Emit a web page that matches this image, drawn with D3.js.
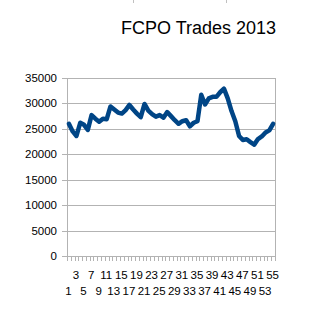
<!DOCTYPE html>
<html>
<head>
<meta charset="utf-8">
<script src="https://cdn.jsdelivr.net/npm/d3@7"></script>
<style>
body { margin: 0; background: #fff; }
text { font-family: "Liberation Sans", Arial, sans-serif; fill: #000; }
</style>
</head>
<body>
<script>
//FCPO trades line chart
(function(){

//week numbers 1..55
var weeks = [1,2,3,4,5,6,7,8,9,10,11,12,13,14,15,16,17,18,19,20,21,22,23,24,25,26,27,28,29,30,31,32,33,34,35,36,37,38,39,40,41,42,43,44,45,46,47,48,49,50,51,52,53,54,55];
//trades per week
var trades = [26000,24500,23600,26200,25800,24800,27700,27000,26400,27000,
              26900,29400,28800,28200,28000,28700,29700,28800,28000,27300,
              29900,28600,27900,27400,27700,27200,28300,27500,26700,26000,
              26500,26700,25500,26200,26500,31700,29800,31000,31300,31300,
              32200,32900,31000,28500,26500,23600,22800,22950,22400,21900,
              23000,23500,24300,24700,26000];
var yTicks = [0,5000,10000,15000,20000,25000,30000,35000];
var chartTitle = "FCPO Trades 2013";

window.onload = drawChart();

function drawChart(){
    var width = 330,
        height = 323;

    var svg = d3.select("body")
        .append("svg")
        .attr("width", width)
        .attr("height", height);

    //plot area
    var left = 67, right = 275, top = 78, bottom = 256;

    var x = d3.scaleBand()
        .domain(weeks)
        .range([left, right]);

    var y = d3.scaleLinear()
        .domain([0, 35000])
        .range([bottom, top]);

    //little marks at the top edge
    svg.selectAll(".edge")
        .data([133, 226])
        .enter()
        .append("line")
        .attr("x1", function(d){ return d + 0.5; })
        .attr("x2", function(d){ return d + 0.5; })
        .attr("y1", 0)
        .attr("y2", 3)
        .style("stroke", "#c0c0c0");

    //title
    svg.append("text")
        .attr("x", 121)
        .attr("y", 34)
        .style("font-size", "18px")
        .text(chartTitle);

    //horizontal gridlines with outer ticks
    svg.selectAll(".grid")
        .data(yTicks)
        .enter()
        .append("line")
        .attr("class", "grid")
        .attr("x1", left - 5)
        .attr("x2", right)
        .attr("y1", function(d){ return Math.round(y(d)) + 0.5; })
        .attr("y2", function(d){ return Math.round(y(d)) + 0.5; })
        .style("stroke", "#b3b3b3");

    //y labels
    svg.selectAll(".ylab")
        .data(yTicks)
        .enter()
        .append("text")
        .attr("class", "ylab")
        .attr("x", 57)
        .attr("y", function(d){ return y(d); })
        .attr("dy", "0.35em")
        .attr("text-anchor", "end")
        .style("font-size", "11.5px")
        .text(function(d){ return d; });

    //left and right frame lines
    svg.append("line")
        .attr("x1", left + 0.5).attr("x2", left + 0.5)
        .attr("y1", top).attr("y2", bottom + 5)
        .style("stroke", "#b3b3b3");
    svg.append("line")
        .attr("x1", right + 0.5).attr("x2", right + 0.5)
        .attr("y1", top).attr("y2", bottom + 5)
        .style("stroke", "#b3b3b3");

    //category ticks at band boundaries
    var bounds = weeks.map(function(d){ return x(d); }).concat([x(weeks[weeks.length - 1]) + x.bandwidth()]);
    svg.selectAll(".xtick")
        .data(bounds)
        .enter()
        .append("line")
        .attr("class", "xtick")
        .attr("x1", function(d){ return Math.round(d) + 0.5; })
        .attr("x2", function(d){ return Math.round(d) + 0.5; })
        .attr("y1", bottom)
        .attr("y2", bottom + 5)
        .style("stroke", "#b3b3b3");

    //x labels, odd weeks, staggered on two rows
    svg.selectAll(".xlab")
        .data(weeks.filter(function(d){ return d % 2 == 1; }))
        .enter()
        .append("text")
        .attr("class", "xlab")
        .attr("x", function(d){ return x(d) + x.bandwidth() / 2 - 0.5; })
        .attr("y", function(d){ return (d % 4 == 3) ? 279 : 295; })
        .attr("text-anchor", "middle")
        .style("font-size", "11.5px")
        .text(function(d){ return d; });

    //the trades line
    var line = d3.line()
        .x(function(d, i){ return x(weeks[i]) + x.bandwidth() / 2; })
        .y(function(d){ return y(d); });

    svg.append("path")
        .datum(trades)
        .attr("d", line)
        .style("fill", "none")
        .style("stroke", "#004586")
        .style("stroke-width", 4.5)
        .style("stroke-linejoin", "round")
        .style("stroke-linecap", "round");
};

})();
</script>
</body>
</html>
